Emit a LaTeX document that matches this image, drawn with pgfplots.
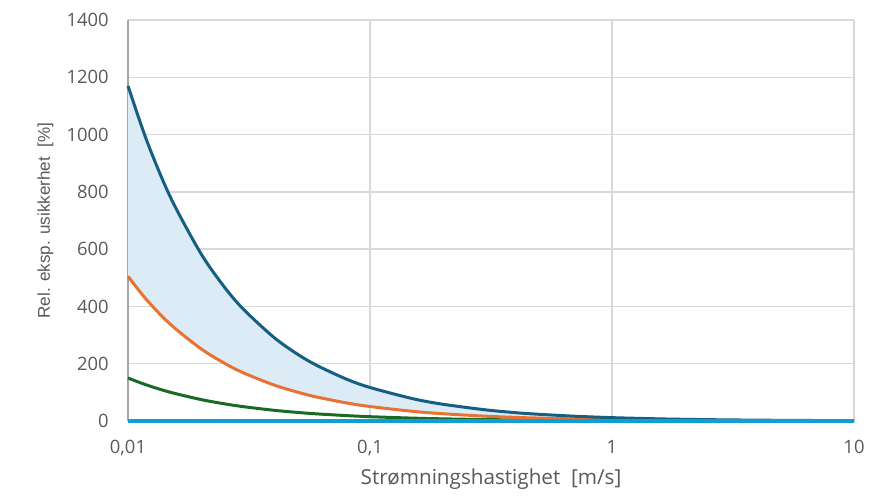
\documentclass[border=0pt]{standalone}
\usepackage{pgfplots}
\pgfplotsset{compat=1.18}
\usepackage{pgfplotstable}
\usepgfplotslibrary{fillbetween}
\usepackage{fontspec}
\setmainfont{Open Sans}
\newfontfamily\arialfont{Liberation Sans}
\definecolor{cblue}{HTML}{156082}
\definecolor{corange}{HTML}{E97132}
\definecolor{cgreen}{HTML}{196B24}
\definecolor{clight}{HTML}{0F9ED5}
\definecolor{cfill}{HTML}{DDEBF7}
\definecolor{ctext}{HTML}{595959}
\definecolor{cgrid}{HTML}{D9D9D9}
\pgfplotstableread{
x      blue   orange  green  zero
0.01   1170   505     150    0
0.012  975    421     125    0
0.015  780    337     100    0
0.02   585    252.5   75     0
0.025  468    202     60     0
0.03   390    168     50     0
0.04   292.5  126     37.5   0
0.05   234    101     30     0
0.06   195    84      25     0
0.08   146    63      18.8   0
0.1    117    50.5    15     0
0.15   78     33.7    10     0
0.2    58.5   25.3    7.5    0
0.3    39     16.8    5      0
0.4    29     12.6    3.75   0
0.5    23.4   10.1    3      0
0.7    16.7   7.2     2.14   0
1      11.7   5.05    1.5    0
1.5    7.8    3.37    1      0
2      5.85   2.5     0.75   0
3      3.9    1.68    0.5    0
5      2.34   1.01    0.3    0
7      1.67   0.72    0.21   0
10     1.17   0.5     0.15   0
}\datatable
\begin{document}
\begin{tikzpicture}[x=1pt,y=1pt]
\begin{axis}[
  scale only axis,
  width=544.5pt, height=300.75pt,
  xmode=log,
  xmin=0.01, xmax=10,
  ymin=0, ymax=1400,
  xtick={0.01,0.1,1,10},
  xticklabels={{0,01},{0,1},1,10},
  ytick={0,200,...,1400},
  minor xtick={},
  grid=major,
  major grid style={cgrid, line width=1pt},
  axis x line*=bottom,
  axis y line*=left,
  x axis line style={draw=none},
  y axis line style={draw=gray!70, line width=1pt},
  major tick length=0pt,
  tick style={draw=none},
  ticklabel style={font=\fontsize{13.8}{16}\selectfont, text=ctext},
  /pgf/number format/assume math mode=true,
  /pgf/number format/1000 sep={},
  yticklabel style={xshift=-11pt},
  xticklabel style={yshift=-11pt},
  xlabel={Strømningshastighet\ \ [m/s]},
  ylabel={\arialfont Rel. eksp. usikkerhet\ \ [\%]},
  xlabel style={font=\fontsize{15.5}{18}\selectfont, text=ctext, yshift=-3pt},
  ylabel style={font=\fontsize{12.8}{15}\selectfont, text=ctext, yshift=3pt},
  clip=false,
]
\addplot[draw=none, name path=B, forget plot] table[x=x,y=blue] {\datatable};
\addplot[draw=none, name path=O, forget plot] table[x=x,y=orange] {\datatable};
\addplot[cfill, forget plot] fill between[of=B and O];
\addplot[cgreen, line width=2.25pt, smooth] table[x=x,y=green] {\datatable};
\addplot[corange, line width=2.25pt, smooth] table[x=x,y=orange] {\datatable};
\addplot[cblue, line width=2.25pt, smooth] table[x=x,y=blue] {\datatable};
\addplot[clight, line width=3pt] table[x=x,y=zero] {\datatable};
\end{axis}
\pgfresetboundingbox
\path ([shift={(-96pt,-57.75pt)}]current axis.south west) rectangle ([shift={(17.25pt,15pt)}]current axis.north east);
\end{tikzpicture}
\end{document}
